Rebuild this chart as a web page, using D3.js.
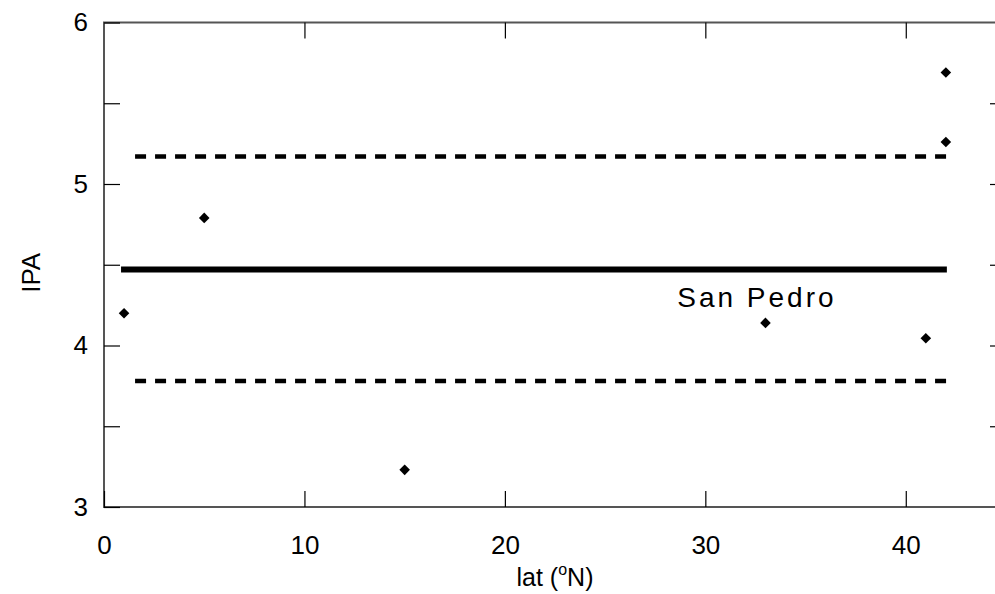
<!DOCTYPE html>
<html>
<head>
<meta charset="utf-8">
<script src="https://cdn.jsdelivr.net/npm/d3@7"></script>
<style>
  body { margin: 0; background: #fff; }
  text { font-family: "Liberation Sans", Arial, sans-serif; fill: #000; }
</style>
</head>
<body>
<div id="container"></div>
<script>
// site latitudes and IPA values
var lat = [1, 5, 15, 33, 41, 42, 42];
var ipa = [4.2, 4.79, 3.23, 4.14, 4.045, 5.69, 5.26];

// mean and +/- band
var meanLine = {y: 4.47, x0: 0.85, x1: 42.05};
var bandLines = [
  {y: 5.17, x0: 1.55, x1: 42.05},
  {y: 3.78, x0: 1.55, x1: 42.05}
];

var xTicks = [0, 10, 20, 30, 40];
var yTicks = [3, 4, 5, 6];
var yMinor = [3.5, 4.5, 5.5];

var label = {text: "San Pedro", x: 28.6, y: 4.24};

var margin = {top: 22.5, right: -11, bottom: 87, left: 104},
  W = 995, H = 594,
  width = W - margin.left - margin.right,
  height = H - margin.top - margin.bottom;

var svg = d3.select("#container")
    .append("svg")
    .attr("width", W)
    .attr("height", H)
    .append("g")
    .attr("transform", "translate(" + margin.left + "," + margin.top + ")");

var x = d3.scaleLinear().domain([0, 45]).range([0, width]);
var y = d3.scaleLinear().domain([3, 6]).range([height, 0]);

var tickLen = 16;

// frame
svg.append("rect")
    .attr("width", width)
    .attr("height", height)
    .attr("fill", "none")
    .attr("stroke", "#555")
    .attr("stroke-width", 2);

// bottom axis (ticks inward)
var xAxis = svg.append("g")
    .attr("transform", "translate(0," + height + ")")
    .call(d3.axisBottom(x).tickValues(xTicks).tickSizeInner(-tickLen).tickSizeOuter(0).tickPadding(29));
xAxis.select(".domain").remove();
xAxis.selectAll("text").style("font-size", "26px").style("font-family", "'Liberation Sans', Arial, sans-serif");
xAxis.selectAll("line").attr("stroke", "#000").attr("stroke-width", 1.2);

// top ticks
svg.append("g")
    .call(d3.axisTop(x).tickValues(xTicks.slice(1)).tickSizeInner(-tickLen).tickSizeOuter(0).tickFormat(""))
    .call(function(g) { g.select(".domain").remove(); })
    .selectAll("line").attr("stroke", "#000").attr("stroke-width", 1.2);

// left axis
var yAxis = svg.append("g")
    .call(d3.axisLeft(y).tickValues(yTicks.concat(yMinor)).tickSizeInner(-tickLen).tickSizeOuter(0)
      .tickPadding(16)
      .tickFormat(function(d) { return yTicks.indexOf(d) >= 0 ? d3.format("d")(d) : ""; }));
yAxis.select(".domain").remove();
yAxis.selectAll("text").style("font-size", "26px").style("font-family", "'Liberation Sans', Arial, sans-serif");
yAxis.selectAll("line").attr("stroke", "#000").attr("stroke-width", 1.2);

// right ticks
svg.append("g")
    .attr("transform", "translate(" + width + ",0)")
    .call(d3.axisRight(y).tickValues([3.5, 4, 4.5, 5, 5.5]).tickSizeInner(-tickLen).tickSizeOuter(0).tickFormat(""))
    .call(function(g) { g.select(".domain").remove(); })
    .selectAll("line").attr("stroke", "#000").attr("stroke-width", 1.2);

// mean line
svg.append("line")
    .attr("x1", x(meanLine.x0)).attr("x2", x(meanLine.x1))
    .attr("y1", y(meanLine.y)).attr("y2", y(meanLine.y))
    .attr("stroke", "#000")
    .attr("stroke-width", 6);

// dashed band lines
svg.selectAll(".band")
    .data(bandLines)
    .enter()
    .append("line")
    .attr("class", "band")
    .attr("x1", function(d) { return x(d.x0); })
    .attr("x2", function(d) { return x(d.x1); })
    .attr("y1", function(d) { return y(d.y); })
    .attr("y2", function(d) { return y(d.y); })
    .attr("stroke", "#000")
    .attr("stroke-width", 4.5)
    .attr("stroke-dasharray", "11,9");

// points
var diamond = d3.symbol().type(d3.symbolSquare).size(56);
svg.selectAll(".pt")
    .data(lat)
    .enter()
    .append("path")
    .attr("class", "pt")
    .attr("d", diamond)
    .attr("transform", function(d, i) {
        return "translate(" + x(d) + "," + y(ipa[i]) + ") rotate(45)";
    })
    .attr("fill", "#000");

// annotation
svg.append("text")
    .attr("x", x(label.x))
    .attr("y", y(label.y))
    .style("font-size", "28px")
    .style("letter-spacing", "3px")
    .text(label.text);

// axis titles
var xt = svg.append("text")
    .attr("x", x(22.5))
    .attr("y", height + 79)
    .attr("text-anchor", "middle")
    .style("font-size", "25px");
xt.append("tspan").text("lat (");
xt.append("tspan").attr("dy", -11).style("font-size", "16px").text("o");
xt.append("tspan").attr("dy", 11).text("N)");

svg.append("text")
    .attr("transform", "translate(" + (-margin.left + 40) + "," + y(4.45) + ") rotate(-90)")
    .attr("text-anchor", "middle")
    .style("font-size", "26px")
    .text("IPA");
</script>
</body>
</html>
